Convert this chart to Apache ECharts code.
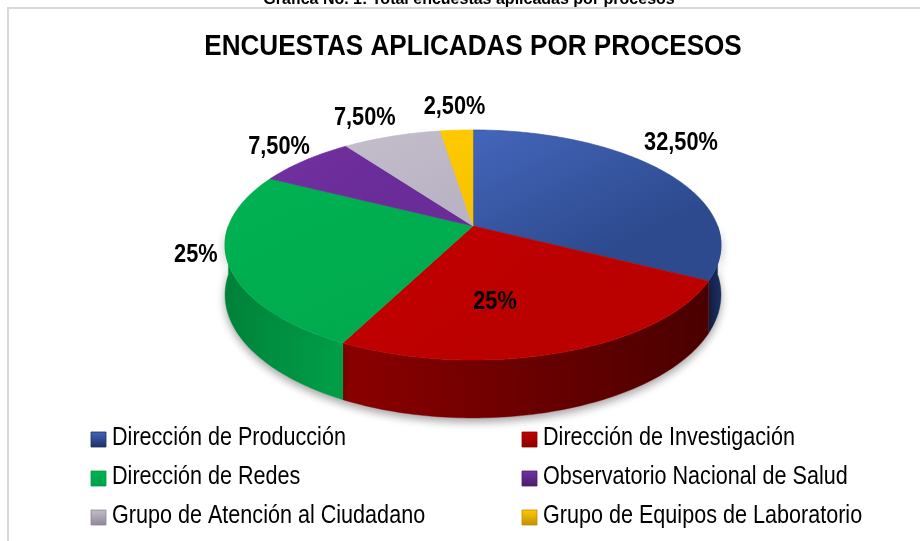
<!DOCTYPE html>
<html>
<head>
<meta charset="utf-8">
<script src="https://cdn.jsdelivr.net/npm/echarts@6/dist/echarts.min.js"></script>
<style>
html,body{margin:0;padding:0;background:#fff;}
#chart{width:920px;height:541px;}
</style>
</head>
<body>
<div id="chart"></div>
<script>
// ---- data ----
const categories = [
  'Dirección de Producción',
  'Dirección de Investigación',
  'Dirección de Redes',
  'Observatorio Nacional de Salud',
  'Grupo de Atención al Ciudadano',
  'Grupo de Equipos de Laboratorio'
];
const values = [32.5, 25, 25, 7.5, 7.5, 2.5];
const chartTitle = 'ENCUESTAS APLICADAS POR PROCESOS';
const caption = 'Gráfica No. 1: Total encuestas aplicadas por procesos';

// ---- styles ----
const topColors = [
  ['#4466bb', '#2d4a8e'],
  ['#c40000', '#bb0000'],
  ['#00b252', '#00ab4e'],
  ['#7232a2', '#6a2c98'],
  ['#c4bdcc', '#bab3c3'],
  ['#ffca00', '#f8c000']
];
const sideColors = [
  ['#1d2f62', '#15234a'],
  ['#8c0000', '#4a0000'],
  ['#00a048', '#00823a'],
  ['#4a1c6c', '#3a1556'],
  ['#8e8896', '#7e7886'],
  ['#c09000', '#a07800']
];
const labelPlace = ['out', 'in', 'out', 'out', 'out', 'out'];
const labelNudge = [[16, -29], [-19, 18], [-32, -7], [-26, -13], [-27, -18], [-2, -23]];

const FONT = '"Liberation Sans",Arial,sans-serif';

// 3D projection parameters (layout)
const CX = 473, CY = 226, A = 244.6, B = 111.9, P = 0.165, DEPTH = 48.4;

const total = values.reduce((s, v) => s + v, 0);
const starts = [];
(function () { let acc = 0; values.forEach(v => { starts.push(acc); acc += v; }); })();

function proj(s, deg, dz) {
  const r = deg * Math.PI / 180;
  const u = s * Math.sin(r), v = -s * Math.cos(r);
  const w = 1 - P * v;
  return [CX + A * u / w, CY + (B * v + dz) / w];
}
function arc(a0, a1, dz) {
  const pts = [];
  const n = Math.max(2, Math.ceil(Math.abs(a1 - a0) / 1));
  for (let k = 0; k <= n; k++) pts.push(proj(1, a0 + (a1 - a0) * k / n, dz));
  return pts;
}
function fmt(v) {
  return Number.isInteger(v) ? v + '%' : v.toFixed(2).replace('.', ',') + '%';
}

function makeRender(i) {
  return function (params, api) {
    const val = api.value(0);
    const a0 = starts[i] / total * 360;
    const a1 = (starts[i] + val) / total * 360;
    const children = [];
    const topPts = [proj(0, 0, 0)].concat(arc(a0, a1, 0));
    children.push({
      type: 'polygon',
      shape: { points: topPts },
      style: {
        fill: new echarts.graphic.LinearGradient(0, 0, 0.3, 1, [
          { offset: 0, color: topColors[i][0] }, { offset: 1, color: topColors[i][1] }
        ]),
        stroke: topColors[i][1], lineWidth: 0.6
      },
      z2: 10
    });
    const lo = Math.max(a0, 90), hi = Math.min(a1, 270);
    if (hi > lo) {
      const sidePts = arc(lo, hi, 0).concat(arc(hi, lo, DEPTH));
      children.push({
        type: 'polygon',
        shape: { points: sidePts },
        style: {
          fill: new echarts.graphic.LinearGradient(i === 1 ? 1 : 0, 0, i === 1 ? 0 : 1, 0, [
            { offset: 0, color: sideColors[i][1] }, { offset: 1, color: sideColors[i][0] }
          ]),
          stroke: sideColors[i][0], lineWidth: 0.4,
          shadowBlur: 8, shadowColor: 'rgba(0,0,0,0.35)', shadowOffsetY: 4
        },
        z2: 1
      });
    }
    const mid = (a0 + a1) / 2;
    const base = labelPlace[i] === 'out' ? proj(1, mid, 0) : proj(0.5, mid, 0);
    children.push({
      type: 'text',
      x: base[0] + labelNudge[i][0],
      y: base[1] + labelNudge[i][1],
      scaleX: 0.87,
      style: {
        text: fmt(val),
        font: 'bold 25px ' + FONT,
        fill: '#000',
        align: 'center',
        verticalAlign: 'middle'
      },
      z2: 30
    });
    return { type: 'group', children: children };
  };
}

const series = categories.map((name, i) => ({
  type: 'custom',
  name: name,
  coordinateSystem: 'none',
  renderItem: makeRender(i),
  itemStyle: { color: topColors[i][0] },
  data: [[values[i]]],
  silent: true
}));

// legend drawn as graphic items (two columns, three rows)
const legendCols = [91, 522];
const legendTop = 432, legendStep = 39;
const legendGraphics = [];
categories.forEach((name, i) => {
  const col = i % 2, row = Math.floor(i / 2);
  const x = legendCols[col], y = legendTop + row * legendStep;
  legendGraphics.push({
    type: 'rect', silent: true,
    shape: { x: x, y: y, width: 15, height: 15 },
    style: {
      fill: new echarts.graphic.LinearGradient(0, 0, 0, 1, [
        { offset: 0, color: topColors[i][0] }, { offset: 1, color: sideColors[i][0] }
      ]),
      stroke: sideColors[i][0], lineWidth: 0.8
    }
  });
  legendGraphics.push({
    type: 'text', silent: true,
    x: x + 21, y: y + 6,
    scaleX: 0.83,
    style: { text: name, font: '26px ' + FONT, fill: '#000', align: 'left', verticalAlign: 'middle' }
  });
});

const chart = echarts.init(document.getElementById('chart'), null, { renderer: 'canvas' });
chart.setOption({
  animation: false,
  backgroundColor: '#fff',
  graphic: [
    {
      type: 'rect', silent: true, z: -1,
      shape: { x: 8, y: 8, width: 930, height: 550 },
      style: { fill: 'none', stroke: '#d9d9d9', lineWidth: 2 }
    },
    {
      type: 'text', silent: true,
      x: 469, y: 8,
      style: { text: caption, font: 'bold 16px ' + FONT, fill: '#000', align: 'center', verticalAlign: 'bottom' }
    },
    {
      type: 'text', silent: true,
      x: 473, y: 47, scaleX: 0.9,
      style: { text: chartTitle, font: 'bold 29px ' + FONT, fill: '#000', align: 'center', verticalAlign: 'middle' }
    }
  ].concat(legendGraphics),
  series: series
});
</script>
</body>
</html>
